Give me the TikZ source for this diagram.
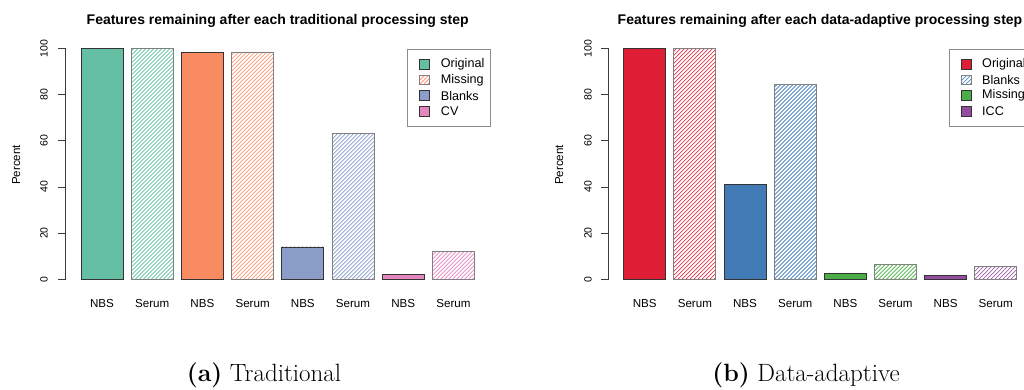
\documentclass[tikz,border=0pt]{standalone}
\usepackage{fontspec}
\newfontfamily\plotfont{Liberation Sans}
\usetikzlibrary{positioning}
\definecolor{sGreen}{HTML}{66C2A5}
\definecolor{sOrange}{HTML}{FC8D62}
\definecolor{sBlue}{HTML}{8DA0CB}
\definecolor{sPink}{HTML}{E78AC3}
\definecolor{dRed}{HTML}{E21F36}
\definecolor{dBlue}{HTML}{437DB8}
\definecolor{dGreen}{HTML}{4DAF4A}
\definecolor{dPurple}{HTML}{984EA3}
\definecolor{axisgray}{RGB}{60,60,60}
\tikzset{
  ttl/.style={font=\plotfont\bfseries\fontsize{14}{16}\selectfont,inner sep=0pt},
  lbl/.style={font=\plotfont\fontsize{11.6}{13}\selectfont,inner sep=0pt},
  tck/.style={font=\plotfont\fontsize{10.5}{12}\selectfont,rotate=90,inner sep=0pt},
  leg/.style={font=\plotfont\fontsize{12.6}{14}\selectfont,inner sep=0pt,anchor=west},
  subcap/.style={font=\fontsize{25}{30}\selectfont,inner sep=0pt},
  solidedge/.style={draw=black!80,line width=0.9pt},
  hatchedge/.style={draw=black!50,line width=0.9pt},
  axisline/.style={draw=axisgray,line width=0.8pt},
  legframe/.style={draw=black!45,line width=0.9pt},
}
% filled box with faint texture: x1, y1, x2, y2, colour
\newcommand{\solidbox}[5]{%
  \fill[#5] (#1,#2) rectangle (#3,#4);
  \begin{scope}
    \clip (#1,#2) rectangle (#3,#4);
    \foreach \k in {0,...,72}
      \draw[#5!93!black,line width=0.4pt] (#1-240+\k*4.0,#4) -- ++(250,-250);
  \end{scope}
  \draw[solidedge] (#1,#2) rectangle (#3,#4);
}
% white box with diagonal lines
\newcommand{\hatchbox}[5]{%
  \begin{scope}
    \clip (#1,#2) rectangle (#3,#4);
    \foreach \k in {0,...,72}
      \draw[#5!90,line width=0.8pt] (#1-240+\k*4.0,#4) -- ++(250,-250);
  \end{scope}
  \draw[hatchedge] (#1,#2) rectangle (#3,#4);
}

\begin{document}
\begin{tikzpicture}[x=1pt,y=-1pt]
  \useasboundingbox (0,0) rectangle (1024,389);
  \clip (0,0) rectangle (1024,389);

  % ---- left panel: traditional ----
  \node[ttl] (titleA) at (277.7,20.7) {Features remaining after each traditional processing step};
  \draw[axisline] (65.7,48.3) -- (65.7,279.3);
  \foreach \t in {0,20,...,100} {
    \draw[axisline] (65.7,{279.3-2.31*\t}) -- ++(-7.4,0);
    \node[tck] (tickA\t) at (44,{279.3-2.31*\t}) {\t};
  }
  \node[lbl,rotate=90] (percA) at (16.3,165) {Percent};
  \foreach \i/\v/\c in {0/100/sGreen,2/98/sOrange,4/14/sBlue,6/2/sPink} {
    \pgfmathsetmacro{\xl}{81+\i*50.2}
    \solidbox{\xl}{279.3-2.31*\v}{\xl+42}{279.3}{\c}
    \node[lbl] (nbsA\i) at (\xl+21,303.3) {NBS};
  }
  \foreach \i/\v/\c in {1/100/sGreen,3/98/sOrange,5/63/sBlue,7/12/sPink} {
    \pgfmathsetmacro{\xl}{81+\i*50.2}
    \hatchbox{\xl}{279.3-2.31*\v}{\xl+42}{279.3}{\c}
    \node[lbl] (serA\i) at (\xl+21,303.3) {Serum};
  }
  \draw[legframe] (407.3,49) rectangle (490,126);
  \foreach \j/\txt/\c/\f in {0/Original/sGreen/0,1/Missing/sOrange/1,2/Blanks/sBlue/0,3/CV/sPink/0} {
    \pgfmathsetmacro{\yr}{64.3+\j*15.6}
    \ifnum\f=1 \hatchbox{419.3}{\yr-4.85}{429}{\yr+4.85}{\c}
    \else \solidbox{419.3}{\yr-4.85}{429}{\yr+4.85}{\c}\fi
    \node[leg] (legA\j) at (440.7,\yr) {\txt};
  }
  \node[subcap] (capA) at (264,375) {\textbf{(a)} Traditional};

  % ---- right panel: data-adaptive ----
  \node[ttl] (titleB) at (820,20.7) {Features remaining after each data-adaptive processing step};
  \draw[axisline] (608.7,48.3) -- (608.7,279.3);
  \foreach \t in {0,20,...,100} {
    \draw[axisline] (608.7,{279.3-2.31*\t}) -- ++(-7.4,0);
    \node[tck] (tickB\t) at (588,{279.3-2.31*\t}) {\t};
  }
  \node[lbl,rotate=90] (percB) at (559.3,165) {Percent};
  \foreach \i/\v/\c in {0/100/dRed,2/41/dBlue,4/2.5/dGreen,6/1.7/dPurple} {
    \pgfmathsetmacro{\xl}{623.7+\i*50.15}
    \solidbox{\xl}{279.3-2.31*\v}{\xl+42}{279.3}{\c}
    \node[lbl] (nbsB\i) at (\xl+21,303.3) {NBS};
  }
  \foreach \i/\v/\c in {1/100/dRed,3/84.5/dBlue,5/6.6/dGreen,7/5.4/dPurple} {
    \pgfmathsetmacro{\xl}{623.7+\i*50.15}
    \hatchbox{\xl}{279.3-2.31*\v}{\xl+42}{279.3}{\c}
    \node[lbl] (serB\i) at (\xl+21,303.3) {Serum};
  }
  \draw[legframe] (949.7,49) rectangle (1040,126);
  \foreach \j/\txt/\c/\f in {0/Original/dRed/0,1/Blanks/dBlue/1,2/Missing/dGreen/0,3/ICC/dPurple/0} {
    \pgfmathsetmacro{\yr}{64.3+\j*15.6}
    \ifnum\f=1 \hatchbox{961.3}{\yr-4.85}{971.3}{\yr+4.85}{\c}
    \else \solidbox{961.3}{\yr-4.85}{971.3}{\yr+4.85}{\c}\fi
    \node[leg] (legB\j) at (982,\yr) {\txt};
  }
  \node[subcap] (capB) at (806,375) {\textbf{(b)} Data-adaptive};
\end{tikzpicture}
\end{document}
